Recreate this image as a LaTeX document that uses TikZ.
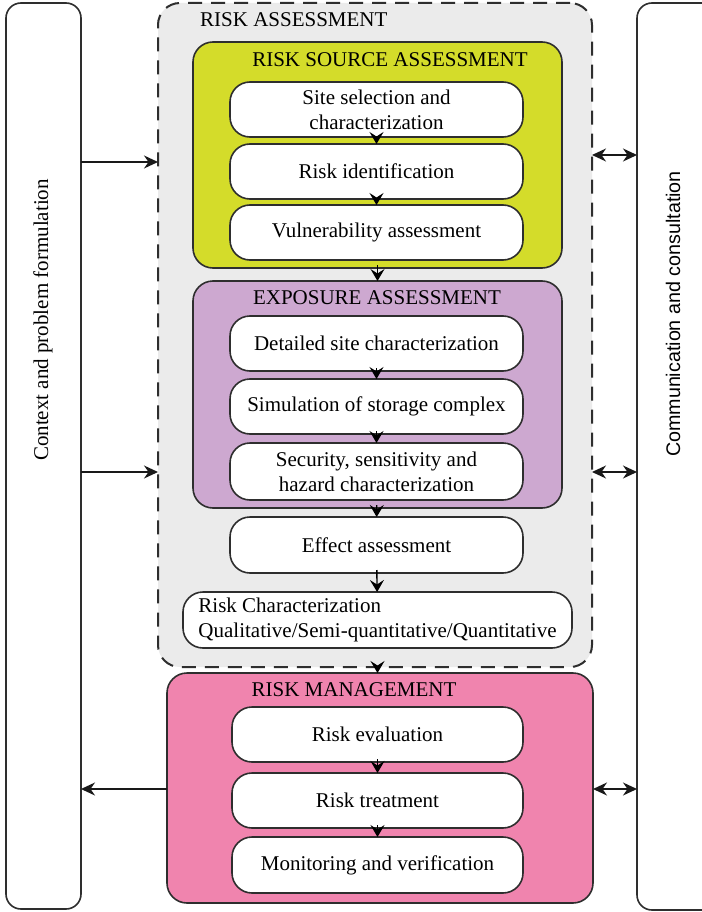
\documentclass[tikz,border=0pt]{standalone}
\usepackage{fontspec}
\setmainfont{Liberation Serif}
\newfontfamily\sansfont{Liberation Sans}
\usetikzlibrary{arrows.meta}

\definecolor{edgegray}{HTML}{2E2E2E}
\definecolor{assessbg}{HTML}{EBEBEB}
\definecolor{sourcefill}{HTML}{D4DC2A}
\definecolor{exposurefill}{HTML}{CDA8D0}
\definecolor{managefill}{HTML}{F084AE}

\tikzset{
  base/.style={inner sep=0pt, outer sep=0pt, draw=edgegray, line width=1.6pt},
  stagebox/.style={base, rounded corners=20pt},
  itembox/.style={base, fill=white, rounded corners=20pt, minimum width=293pt,
    minimum height=55pt, align=center, font=\fontsize{21}{25}\selectfont},
  sidebox/.style={base, fill=white, rounded corners=15pt},
  heading/.style={inner sep=0pt, font=\fontsize{21}{25}\selectfont},
  flow/.style={draw=black, line width=1.4pt, shorten <=-3pt,
    -{Stealth[length=12pt,width=14pt,inset=4.5pt]}},
  feed/.style={draw=black!90, line width=1.4pt,
    -{Stealth[length=14pt,width=13pt,inset=4.5pt]}},
  talk/.style={draw=black!90, line width=1.4pt,
    {Stealth[length=14pt,width=13pt,inset=4.5pt]}-{Stealth[length=14pt,width=13pt,inset=4.5pt]}},
}

\begin{document}
\begin{tikzpicture}[x=1pt, y=-1pt]
\useasboundingbox[fill=white] (0,0) rectangle (701,912);

% side panels
\node[sidebox, minimum width=75pt, minimum height=906pt] (context) at (43.5,456) {};
\node[sidebox, minimum width=120pt, minimum height=907pt] (comm) at (697,456.5) {};
\node[heading, rotate=90] (contexttext) at (43,320) {Context and problem formulation};
\node[inner sep=0pt, rotate=90, font=\sansfont\fontsize{19.7}{24}\selectfont] (commtext) at (673,314) {Communication and consultation};

% risk assessment frame
\node[base, fill=assessbg, line width=2pt, dash pattern=on 14pt off 9pt,
  rounded corners=22pt, minimum width=434pt, minimum height=664pt] (assess) at (375,335) {};
\node[heading, anchor=west] (assesstitle) at (200,20) {RISK ASSESSMENT};

% risk source assessment
\node[stagebox, fill=sourcefill, minimum width=369pt, minimum height=226pt] (source) at (377.5,155) {};
\node[heading] (sourcetitle) at (390,60) {RISK SOURCE ASSESSMENT};
\node[itembox] (site) at (376.5,109.5) {Site selection and\\characterization};
\node[itembox] (ident) at (376.5,171.5) {Risk identification};
\node[itembox] (vuln) at (376.5,232.5) {Vulnerability assessment};

% exposure assessment
\node[stagebox, fill=exposurefill, minimum width=369pt, minimum height=227pt] (exposure) at (377.5,394.5) {};
\node[heading] (exposuretitle) at (377,298) {EXPOSURE ASSESSMENT};
\node[itembox] (detail) at (376.5,343.5) {Detailed site characterization};
\node[itembox] (sim) at (376.5,406.5) {Simulation of storage complex};
\node[itembox, minimum height=57pt] (security) at (376.5,471.5) {Security, sensitivity and\\hazard characterization};

\node[itembox, minimum height=56pt] (effect) at (376.5,545) {Effect assessment};
\node[itembox, minimum width=389pt, minimum height=56pt, align=left] (charact) at (377.5,620)
  {Risk Characterization\\Qualitative/Semi-quantitative/Quantitative};

% risk management
\node[stagebox, fill=managefill, minimum width=426pt, minimum height=230pt] (manage) at (380,788) {};
\node[heading] (managetitle) at (354,690) {RISK MANAGEMENT};
\node[itembox, minimum width=291pt] (evaluate) at (377.5,734.5) {Risk evaluation};
\node[itembox, minimum width=291pt] (treat) at (377.5,800.5) {Risk treatment};
\node[itembox, minimum width=291pt, minimum height=56pt] (monitor) at (377.5,865) {Monitoring and verification};

% flow through the stages
\draw[flow] (site) -- (ident);
\draw[flow] (ident) -- (vuln);
\draw[flow] (source) -- (exposure);
\draw[flow] (detail) -- (sim);
\draw[flow] (sim) -- (security);
\draw[flow] (exposure) -- (effect);
\draw[flow] (effect) -- (charact);
\draw[flow] (assess.south -| charact.south) -- (manage.north -| charact.south);
\draw[flow] (evaluate) -- (treat);
\draw[flow] (treat) -- (monitor);

% links to the side panels
\draw[feed] (context.east |- 0,162) -- (assess.west |- 0,162);
\draw[feed] (context.east |- 0,472) -- (assess.west |- 0,472);
\draw[feed] (manage.west |- 0,789) -- (context.east |- 0,789);
\draw[talk] (assess.east |- 0,155) -- (comm.west |- 0,155);
\draw[talk] (assess.east |- 0,472) -- (comm.west |- 0,472);
\draw[talk] (manage.east |- 0,789) -- (comm.west |- 0,789);
\end{tikzpicture}
\end{document}
